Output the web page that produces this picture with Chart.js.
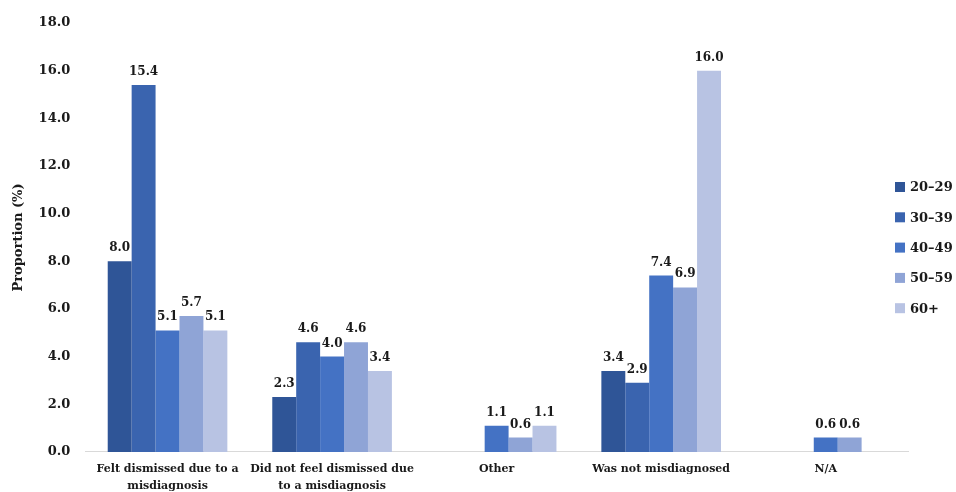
<!DOCTYPE html>
<html>
<head>
<meta charset="utf-8">
<script src="https://cdn.jsdelivr.net/npm/chart.js@4"></script>
<style>
    html, body { margin: 0; padding: 0; background: #fff; overflow: hidden; }
    .chart-container { position: absolute; left: 0; top: 0; width: 956px; height: 496px; }
</style>
</head>
<body>
<div class="chart-container"><canvas id="myChart"></canvas></div>
<script>
const categories = [
    ['Felt dismissed due to a', 'misdiagnosis'],
    ['Did not feel dismissed due', 'to a misdiagnosis'],
    'Other',
    'Was not misdiagnosed',
    'N/A'
];
const ageGroups = ['20–29', '30–39', '40–49', '50–59', '60+'];

// one array per age group, in category order (null = no bar)
const age20to29 = [8.0, 2.3, null, 3.4, null];
const age30to39 = [15.4, 4.6, null, 2.9, null];
const age40to49 = [5.1, 4.0, 1.1, 7.4, 0.6];
const age50to59 = [5.7, 4.6, 0.6, 6.9, 0.6];
const age60plus = [5.1, 3.4, 1.1, 16.0, null];

const seriesValues = [age20to29, age30to39, age40to49, age50to59, age60plus];
const yTicks = [0, 2, 4, 6, 8, 10, 12, 14, 16, 18];

const barColors = ['#2F5597', '#3A64AF', '#4472C4', '#8FA4D6', '#B8C3E3'];
const fontFamily = '"DejaVu Serif", "Liberation Serif", serif';

// Value labels above each bar
const valueLabels = {
    id: 'valueLabels',
    afterDatasetsDraw(chart) {
        const ctx = chart.ctx;
        ctx.save();
        ctx.font = 'bold 12px ' + fontFamily;
        ctx.fillStyle = '#1a1a1a';
        ctx.textAlign = 'center';
        ctx.textBaseline = 'alphabetic';
        chart.data.datasets.forEach((ds, i) => {
            const meta = chart.getDatasetMeta(i);
            meta.data.forEach((bar, j) => {
                const v = ds.data[j];
                if (v == null) return;
                ctx.fillText(v.toFixed(1), bar.x, bar.y - 10);
            });
        });
        ctx.restore();
    }
};

// Legend on the right, drawn over the canvas edge
const sideLegend = {
    id: 'sideLegend',
    afterDraw(chart) {
        const ctx = chart.ctx;
        ctx.save();
        ctx.font = 'bold 13px ' + fontFamily;
        ctx.textBaseline = 'middle';
        ctx.textAlign = 'left';
        chart.data.datasets.forEach((ds, i) => {
            const y = 187 + i * 30.3;
            ctx.fillStyle = ds.backgroundColor;
            ctx.fillRect(895, y - 5, 10, 10);
            ctx.fillStyle = '#1a1a1a';
            ctx.fillText(ds.label, 910, y + 1);
        });
        ctx.restore();
    }
};

const myChartCanvas = document.getElementById('myChart');

const myChart = new Chart(myChartCanvas, {
    type: 'bar',
    data: {
        labels: categories,
        datasets: ageGroups.map((label, i) => ({
            label: label,
            data: seriesValues[i],
            backgroundColor: barColors[i],
            borderWidth: 0,
            barPercentage: 1.0,
            categoryPercentage: 0.727
        }))
    },
    options: {
        responsive: true,
        maintainAspectRatio: false,
        animation: false,
        layout: {
            padding: { top: 23, right: 48, left: 5, bottom: 0 }
        },
        plugins: {
            legend: { display: false },
            tooltip: { enabled: false }
        },
        scales: {
            x: {
                grid: { display: false },
                border: { display: true, color: '#d9d9d9', width: 1 },
                ticks: {
                    color: '#1a1a1a',
                    font: { family: fontFamily, size: 11, weight: 'bold', lineHeight: 1.55 },
                    maxRotation: 0,
                    autoSkip: false,
                    padding: 1
                }
            },
            y: {
                min: 0,
                max: 18,
                afterBuildTicks: (axis) => {
                    axis.ticks = yTicks.map(v => ({ value: v }));
                },
                grid: { display: false },
                border: { display: false },
                title: {
                    display: true,
                    text: 'Proportion (%)',
                    color: '#1a1a1a',
                    font: { family: fontFamily, size: 13, weight: 'bold' },
                    padding: { top: 6, bottom: 5 }
                },
                ticks: {
                    color: '#1a1a1a',
                    font: { family: fontFamily, size: 13, weight: 'bold' },
                    padding: 7,
                    callback: (value) => Number(value).toFixed(1)
                }
            }
        }
    },
    plugins: [valueLabels, sideLegend]
});
</script>
</body>
</html>
